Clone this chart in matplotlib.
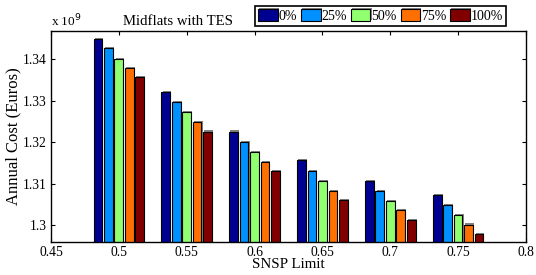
import matplotlib
matplotlib.use("Agg")
import matplotlib.pyplot as plt
import matplotlib.patheffects as pe
import numpy as np

# SNSP limits and annual cost (x 1e9 Euros) for each TES share
snsp = [0.5, 0.55, 0.6, 0.65, 0.7, 0.75]
tes_labels = ['0%', '25%', '50%', '75%', '100%']
cost_0 = [1.3449, 1.3320, 1.3226, 1.3157, 1.3107, 1.3073]
cost_25 = [1.3427, 1.3296, 1.3200, 1.3130, 1.3082, 1.3048]
cost_50 = [1.3401, 1.3272, 1.3176, 1.3107, 1.3059, 1.3025]
cost_75 = [1.3379, 1.3249, 1.3153, 1.3083, 1.3036, 1.3002]
cost_100 = [1.3357, 1.3226, 1.3130, 1.3061, 1.3013, 1.2980]
xticks = [0.45, 0.5, 0.55, 0.6, 0.65, 0.7, 0.75, 0.8]
xticklabels = ['0.45', '0.5', '0.55', '0.6', '0.65', '0.7', '0.75', '0.8']
yticks = [1.30, 1.31, 1.32, 1.33, 1.34]
yticklabels = ['1.3', '1.31', '1.32', '1.33', '1.34']

colors = ['#000090', '#0090ff', '#90ff70', '#ff7000', '#800000']
series = [cost_0, cost_25, cost_50, cost_75, cost_100]

plt.rcParams['font.family'] = ['Liberation Serif', 'DejaVu Serif']
plt.rcParams['font.size'] = 9.8

fig = plt.figure(figsize=(5.36, 2.75), dpi=100)
ax = fig.add_axes([0.0951, 0.12, 0.8862, 0.7673])

pitch = 0.0077
width = 0.0064
shadow = [pe.SimplePatchShadow(offset=(0.8, 0.8), shadow_rgbFace='0.45', alpha=0.9), pe.Normal()]
x = np.array(snsp)
for i, (vals, c, lab) in enumerate(zip(series, colors, tes_labels)):
    bars = ax.bar(x + (i - 2) * pitch, vals, width=width, color=c, edgecolor='black',
                  linewidth=0.8, label=lab, zorder=2)
    for b in bars:
        b.set_path_effects(shadow)

ax.set_xlim(0.45, 0.8)
ax.set_ylim(1.296, 1.3468)
ax.set_xticks(xticks)
ax.set_xticklabels(xticklabels)
ax.set_yticks(yticks)
ax.set_yticklabels(yticklabels)
ax.tick_params(direction='in', top=True, right=True, length=3, width=0.8, labelsize=9.8, pad=3)
for s in ax.spines.values():
    s.set_linewidth(1.0)

ax.set_xlabel('SNSP Limit', labelpad=-1, fontsize=10.8)
ax.set_ylabel('Annual Cost (Euros)', labelpad=1, fontsize=12)
ax.text(0.267, 1.012, 'Midflats with TES', transform=ax.transAxes, ha='center', va='bottom', fontsize=10.6)
ax.text(0.0, 1.01, r'x 10$^{9}$', transform=ax.transAxes, ha='left', va='bottom', fontsize=9.5)

leg = ax.legend(ncol=5, loc='lower right', bbox_to_anchor=(0.968, 1.0), frameon=True, fancybox=False,
                edgecolor='black', framealpha=1, handlelength=1.4, handleheight=0.95,
                handletextpad=0.05, columnspacing=0.3, borderpad=0.22, borderaxespad=0.35, fontsize=10)
leg.get_frame().set_linewidth(1.2)

fig.savefig('out.png', dpi=100)
